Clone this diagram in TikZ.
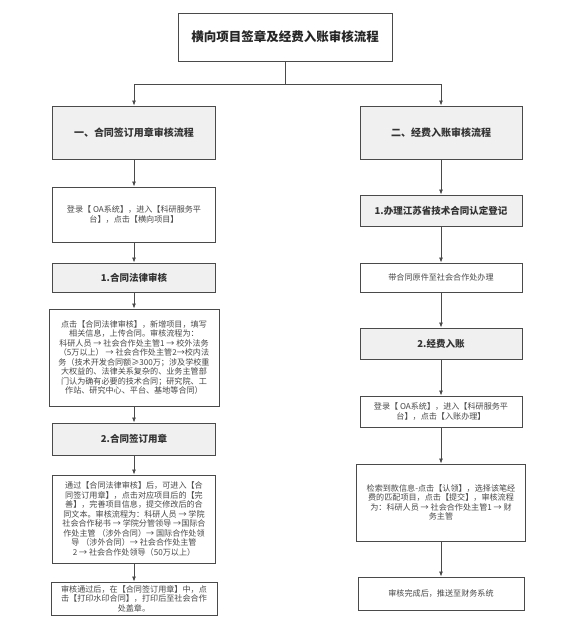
\documentclass[tikz,border=0pt]{standalone}
\usepackage{fontspec}
\setmainfont{Noto Sans CJK SC}
\usepackage{tikz}
\usetikzlibrary{positioning}
\usetikzlibrary{arrows.meta}

\definecolor{boxline}{HTML}{4A4A4A}
\definecolor{headfill}{HTML}{F0F0F0}
\definecolor{bodytext}{HTML}{484848}

\tikzset{
 headbox/.style={draw=boxline,line width=0.9pt,fill=headfill,align=center,
   font=\fontsize{9.5}{11}\selectfont\bfseries,text=black!80,inner sep=2pt},
 textbox/.style={draw=boxline,line width=0.9pt,fill=white,align=center,
   font=\fontsize{8.1}{9.5}\selectfont,text=bodytext,inner sep=2pt},
 flow/.style={draw=boxline,line width=0.8pt,-{Latex[length=5pt,width=4pt]}}
}

\begin{document}
\begin{tikzpicture}[x=1pt,y=-1pt]
 \useasboundingbox (0,0) rectangle (583,643);
 % title
 \node[draw=boxline,line width=0.9pt,minimum width=214,minimum height=48,
   font=\fontsize{12.5}{14}\selectfont\bfseries,text=black!85] (title) at (285,37) {横向项目签章及经费入账审核流程};
 % left column
 \node[headbox,minimum width=163,minimum height=53,font=\fontsize{10}{12}\selectfont\bfseries] (headA) at (134,132.5) {一、合同签订用章审核流程};
 \node[textbox,minimum width=163,minimum height=55] (loginA) at (134,214.5) {登录【 OA系统】，进入【科研服务平\\台】，点击【横向项目】};
 \node[headbox,minimum width=163,minimum height=29] (stepA) at (134,277.5) {1.合同法律审核};
 \node[textbox,minimum width=170,minimum height=97] (detailA) at (134,357.5) {点击【合同法律审核】，新增项目，填写\\相关信息，上传合同。审核流程为：\\科研人员 → 社会合作处主管1 → 校外法务\\（5万以上） → 社会合作处主管2→校内法\\务（技术开发合同额≥300万；涉及学校重\\大权益的、法律关系复杂的、业务主管部\\门认为确有必要的技术合同；研究院、工\\作站、研究中心、平台、基地等合同）};
 \node[headbox,minimum width=163,minimum height=32] (stepB) at (134,439) {2.合同签订用章};
 \node[textbox,minimum width=163,minimum height=88] (detailB) at (134,519) {通过【合同法律审核】后，可进入【合\\同签订用章】，点击对应项目后的【完\\善】，完善项目信息，提交修改后的合\\同文本。审核流程为：科研人员 → 学院\\社会合作秘书 → 学院分管领导 →国际合\\作处主管 （涉外合同）→ 国际合作处领\\导 （涉外合同）→ 社会合作处主管\\2 → 社会合作处领导（50万以上）};
 \node[textbox,minimum width=166,minimum height=33] (endA) at (134,598.5) {审核通过后，在【合同签订用章】中，点\\击【打印水印合同】，打印后至社会合作\\处盖章。};
 % right column
 \node[headbox,minimum width=162,minimum height=53,font=\fontsize{10}{12}\selectfont\bfseries] (headB) at (441,132.5) {二、经费入账审核流程};
 \node[headbox,minimum width=162,minimum height=31] (stepC) at (441,210.5) {1.办理江苏省技术合同认定登记};
 \node[textbox,minimum width=162,minimum height=29] (carry) at (441,277.5) {带合同原件至社会合作处办理};
 \node[headbox,minimum width=162,minimum height=31] (stepD) at (441,343.5) {2.经费入账};
 \node[textbox,minimum width=162,minimum height=31] (loginB) at (441,411.5) {登录【 OA系统】，进入【科研服务平\\台】，点击【入账办理】};
 \node[textbox,minimum width=169,minimum height=77] (claim) at (441,502.5) {检索到款信息-点击【认领】，选择该笔经\\费的匹配项目，点击【提交】，审核流程\\为：科研人员 → 社会合作处主管1 → 财\\务主管};
 \node[textbox,minimum width=166,minimum height=33] (endB) at (441,593.5) {审核完成后，推送至财务系统};
 % connectors
 \coordinate (split) at (285,84);
 \draw[boxline,line width=0.8pt] (title.south) -- (split);
 \draw[flow] (split) -| (headA.north);
 \draw[flow] (split) -| (headB.north);
 \draw[flow] (headA) -- (loginA);
 \draw[flow] (loginA) -- (stepA);
 \draw[flow] (stepA) -- (detailA);
 \draw[flow] (detailA) -- (stepB);
 \draw[flow] (stepB) -- (detailB);
 \draw[flow] (detailB) -- (endA);
 \draw[flow] (headB) -- (stepC);
 \draw[flow] (stepC) -- (carry);
 \draw[flow] (carry) -- (stepD);
 \draw[flow] (stepD) -- (loginB);
 \draw[flow] (loginB) -- (claim);
 \draw[flow] (claim) -- (endB);
\end{tikzpicture}
\end{document}
